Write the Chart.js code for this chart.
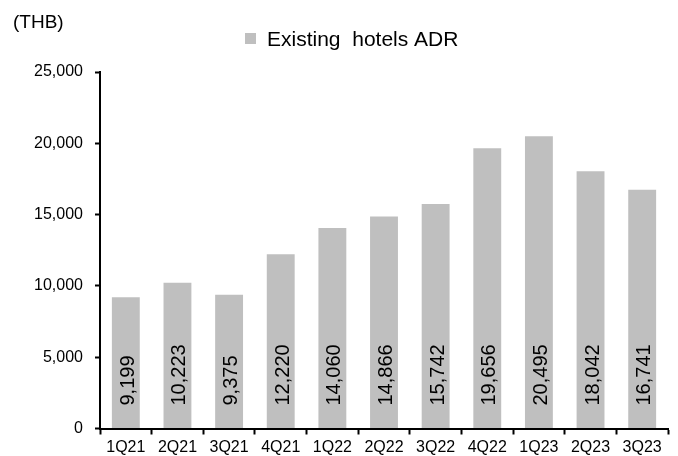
<!DOCTYPE html>
<html><head><meta charset="utf-8">
<script src="https://cdn.jsdelivr.net/npm/chart.js@4/dist/chart.umd.min.js"></script>
<style>html,body{margin:0;padding:0;background:#fff}#w{width:678px;height:456px}</style>
</head><body><div id="w"><canvas id="c" width="678" height="456"></canvas></div>
<script>
const categories = ["1Q21","2Q21","3Q21","4Q21","1Q22","2Q22","3Q22","4Q22","1Q23","2Q23","3Q23"];
const adrValues = [9199,10223,9375,12220,14060,14866,15742,19656,20495,18042,16741];
const yTicks = [0,5000,10000,15000,20000,25000];
const seriesName = "Existing  hotels ADR";
const unitLabel = "(THB)";
const FONT = "'Liberation Sans', Arial, sans-serif";
const fmt = v => v.toLocaleString('en-US');

const extras = {
  id: 'extras',
  afterDatasetsDraw(chart) {
    const ctx = chart.ctx;
    const meta = chart.getDatasetMeta(0);
    const y0 = chart.scales.y.getPixelForValue(0);
    ctx.save();
    ctx.fillStyle = '#000';
    ctx.font = '20px ' + FONT;
    ctx.textAlign = 'left';
    ctx.textBaseline = 'middle';
    meta.data.forEach((bar, i) => {
      ctx.save();
      ctx.translate(bar.x + 2.5, y0 - 23);
      ctx.rotate(-Math.PI / 2);
      ctx.fillText(fmt(adrValues[i]), 0, 0);
      ctx.restore();
    });
    ctx.textBaseline = 'alphabetic';
    // unit label
    ctx.font = '19px ' + FONT;
    ctx.fillText(unitLabel, 13, 28);
    // legend
    ctx.fillStyle = '#bfbfbf';
    ctx.fillRect(245, 33, 11, 11);
    ctx.fillStyle = '#000';
    ctx.font = '21px ' + FONT;
    ctx.fillText(seriesName, 267, 46);
    ctx.restore();
  }
};

new Chart(document.getElementById('c'), {
  type: 'bar',
  data: {
    labels: categories,
    datasets: [{
      label: seriesName,
      data: adrValues,
      backgroundColor: '#bfbfbf',
      borderWidth: 0,
      barPercentage: 0.54,
      categoryPercentage: 1.0
    }]
  },
  options: {
    responsive: false,
    animation: false,
    layout: { padding: { top: 72, right: 10, left: 0, bottom: 0 } },
    plugins: { legend: { display: false }, tooltip: { enabled: false } },
    scales: {
      x: {
        offset: true,
        afterFit: s => { s.height = 27.5; },
        grid: { offset: true, drawOnChartArea: false, drawTicks: true, tickLength: 6, tickColor: '#000', tickWidth: 2 },
        border: { color: '#000', width: 2 },
        ticks: { color: '#000', font: { family: FONT, size: 16 }, padding: 3, maxRotation: 0, autoSkip: false }
      },
      y: {
        min: 0, max: 25000,
        afterBuildTicks: s => { s.ticks = yTicks.map(v => ({ value: v })); },
        afterFit: s => { s.width = 100; },
        grid: { drawOnChartArea: false, drawTicks: true, tickLength: 5, tickColor: '#000', tickWidth: 2 },
        border: { color: '#000', width: 2 },
        ticks: { color: '#000', font: { family: FONT, size: 16 }, padding: 12, callback: v => fmt(v) }
      }
    }
  },
  plugins: [extras]
});
</script></body></html>
